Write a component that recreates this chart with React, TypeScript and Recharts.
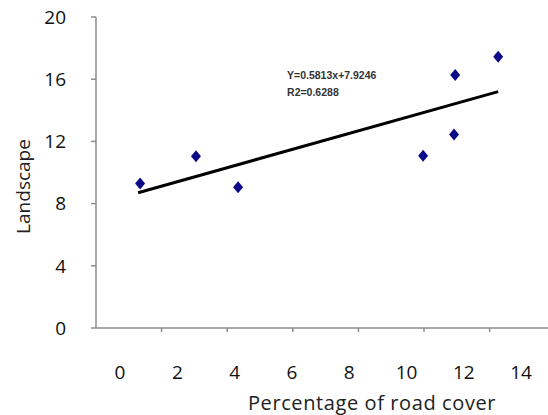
import { ScatterChart, Scatter, XAxis, YAxis, ReferenceDot } from "recharts";

// observed points (road cover %, landscape)
const roadCover = [0.7, 2.65, 4.12, 10.58, 11.66, 11.7, 13.2];
const landscape = [9.3, 11.05, 9.05, 11.08, 12.45, 16.27, 17.45];

// fitted trend line, as drawn
const trendX = [0.63, 13.2];
const trendY = [8.7, 15.2];

const xTicks = [0, 2, 4, 6, 8, 10, 12, 14];
const yTicks = [0, 4, 8, 12, 16, 20];
const markTicks = [1, 2, 3, 4, 5, 6];

const equationLines = ["Y=0.5813x+7.9246", "R2=0.6288"];
const equationAt = { x: 5.83, y: 16.3 };

const points = roadCover.map((x, i) => ({ x, y: landscape[i] }));
const trend = trendX.map((x, i) => ({ x, y: trendY[i] }));

const FONT = "'Open Sans', sans-serif";
const AXIS = "#8c8c8c";

const Diamond = (props: any) => {
  const { cx, cy } = props;
  return <polygon points={`${cx},${cy - 6} ${cx + 5},${cy} ${cx},${cy + 6} ${cx - 5},${cy}`} fill="#0b0b8a" />;
};

const Nothing = () => null;
const BlankTick = () => <g />;

const Equation = (props: any) => {
  const { viewBox } = props;
  return (
    <text x={viewBox.x} y={viewBox.y} fontFamily="'Liberation Sans Narrow', 'Liberation Sans', Arial" fontSize={10.5} fontWeight="bold" fill="#333">
      {equationLines.map((t, i) => (
        <tspan key={i} x={viewBox.x} dy={i === 0 ? 4 : 17}>{t}</tspan>
      ))}
    </text>
  );
};

const YTitle = (props: any) => {
  const { viewBox } = props;
  const x = viewBox.x + 23;
  const y = viewBox.y + viewBox.height / 2 + 14;
  return (
    <text x={x} y={y} transform={`rotate(-90, ${x}, ${y})`} textAnchor="middle" dominantBaseline="central" fill="#222" fontSize={19} fontFamily={FONT}>
      Landscape
    </text>
  );
};

export default function App() {
  return (
    <div style={{ position: "absolute", left: 0, top: 0 }}>
      <ScatterChart width={548} height={415} margin={{ top: 17, right: 0, bottom: 0, left: 0 }}>
        <XAxis
          xAxisId="axis"
          type="number"
          dataKey="x"
          domain={[0, 6.89]}
          ticks={markTicks}
          allowDataOverflow
          height={1}
          tick={BlankTick}
          axisLine={{ stroke: AXIS, strokeWidth: 1.5 }}
          tickLine={{ stroke: AXIS, strokeWidth: 1.5 }}
          tickSize={4}
        />
        <XAxis
          xAxisId="main"
          type="number"
          dataKey="x"
          domain={[-0.84, 14.94]}
          ticks={xTicks}
          allowDataOverflow
          height={86}
          tickLine={false}
          tickMargin={31}
          axisLine={false}
          tick={{ fill: "#111", fontSize: 19, fontFamily: FONT }}
          label={{ value: "Percentage of road cover", position: "insideBottom", offset: 5, fill: "#222", fontSize: 20, letterSpacing: 0.6, fontFamily: FONT, dx: 50 }}
        />
        <YAxis
          type="number"
          dataKey="y"
          domain={[0, 20]}
          ticks={yTicks}
          width={96}
          tickSize={5}
          tickMargin={25}
          axisLine={{ stroke: AXIS, strokeWidth: 1.5 }}
          tickLine={{ stroke: AXIS, strokeWidth: 1.5 }}
          tick={{ fill: "#111", fontSize: 19, fontFamily: FONT }}
          label={<YTitle />}
        />
        <Scatter xAxisId="axis" data={[]} shape={Nothing} isAnimationActive={false} />
        <Scatter xAxisId="main" data={trend} line={{ stroke: "#000", strokeWidth: 3 }} shape={Nothing} isAnimationActive={false} />
        <Scatter xAxisId="main" data={points} shape={Diamond} isAnimationActive={false} />
        <ReferenceDot xAxisId="main" x={equationAt.x} y={equationAt.y} r={0} label={<Equation />} />
      </ScatterChart>
    </div>
  );
}
